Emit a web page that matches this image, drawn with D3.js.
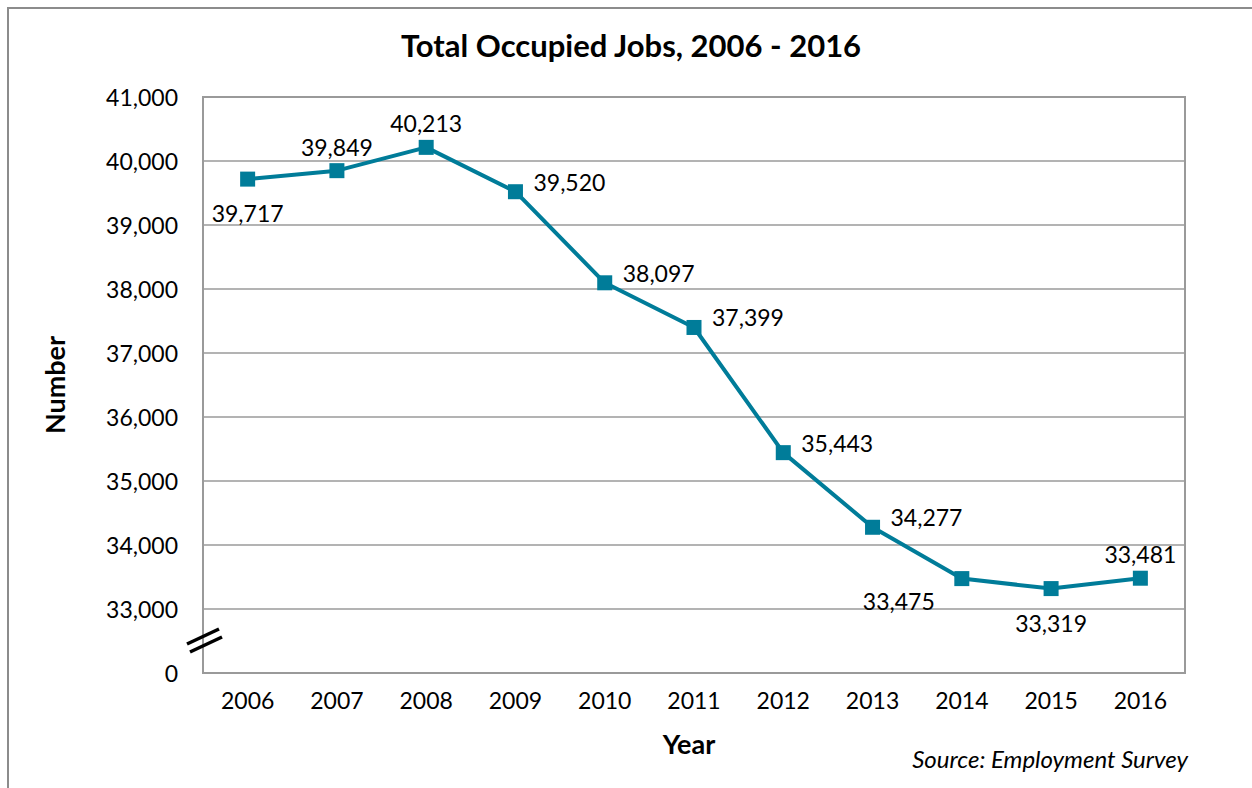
<!DOCTYPE html>
<html>
<head>
<meta charset="utf-8">
<script src="https://cdn.jsdelivr.net/npm/d3@7"></script>
<style>
  body { margin: 0; background: #fff; }
  svg { display: block; font-family: Lato, "Open Sans", sans-serif; }
</style>
</head>
<body>
<svg id="chart" width="1252" height="788"></svg>
<script>
// values
const years = ["2006", "2007", "2008", "2009", "2010", "2011", "2012", "2013", "2014", "2015", "2016"];
const jobs = [39717, 39849, 40213, 39520, 38097, 37399, 35443, 34277, 33475, 33319, 33481];
const yTicks = [0, 33000, 34000, 35000, 36000, 37000, 38000, 39000, 40000, 41000];
// where each label sits relative to its point
const labelPos = ["below", "above", "above", "right", "right", "right", "right", "right", "belowleft", "below", "above"];

const svg = d3.select("#chart");
const teal = "#007c99";
const grid = "#9a9a9a";

const plot = { left: 203, right: 1185, top: 97, bottom: 673 };

// outer frame
svg.append("rect")
   .attr("x", 8).attr("y", 8)
   .attr("width", 1260).attr("height", 800)
   .attr("fill", "none").attr("stroke", "#8c8c8c").attr("stroke-width", 2);

svg.append("text")
   .attr("x", 631).attr("y", 57)
   .attr("text-anchor", "middle")
   .style("font-size", "31px").style("font-weight", "bold")
   .text("Total Occupied Jobs, 2006 - 2016");

const x = d3.scaleBand().domain(years).range([plot.left, plot.right]);
// broken axis: 0 takes one step below 33,000
const y = d3.scaleLinear().domain([0, 33000, 41000]).range([plot.bottom, 609, plot.top]);

// gridlines
svg.append("g")
   .selectAll("line")
   .data(yTicks.filter(d => d > 0 && d < 41000))
   .join("line")
   .attr("x1", plot.left).attr("x2", plot.right)
   .attr("y1", d => y(d)).attr("y2", d => y(d))
   .attr("stroke", grid).attr("stroke-width", 1.5);

svg.append("rect")
   .attr("x", plot.left).attr("y", plot.top)
   .attr("width", plot.right - plot.left).attr("height", plot.bottom - plot.top)
   .attr("fill", "none").attr("stroke", grid).attr("stroke-width", 2);

// axes
const yAxis = d3.axisLeft(y).tickValues(yTicks).tickSize(0).tickPadding(25)
                .tickFormat(d3.format(","));
svg.append("g")
   .attr("transform", `translate(${plot.left},0)`)
   .call(yAxis)
   .call(g => g.select(".domain").remove())
   .call(g => g.selectAll("text").attr("dy", "0.36em")
                .style("font-size", "23px").style("font-family", "Lato, sans-serif").attr("fill", "#000"));

const xAxis = d3.axisBottom(x).tickSize(0).tickPadding(20);
svg.append("g")
   .attr("transform", `translate(0,${plot.bottom})`)
   .call(xAxis)
   .call(g => g.select(".domain").remove())
   .call(g => g.selectAll("text")
                .style("font-size", "23px").style("font-family", "Lato, sans-serif").attr("fill", "#000"));

// break marks on the y axis
const brk = svg.append("g").attr("stroke", "#000").attr("stroke-width", 3.5);
brk.append("line").attr("x1", 187).attr("y1", 644).attr("x2", 219).attr("y2", 629);
brk.append("line").attr("x1", 190).attr("y1", 652).attr("x2", 222).attr("y2", 637);

// axis titles
svg.append("text")
   .attr("transform", `translate(65,${(plot.top + plot.bottom) / 2}) rotate(-90)`)
   .attr("text-anchor", "middle")
   .style("font-size", "27px").style("font-weight", "bold")
   .text("Number");

svg.append("text")
   .attr("x", 689).attr("y", 754)
   .attr("text-anchor", "middle")
   .style("font-size", "27px").style("font-weight", "bold")
   .text("Year");

svg.append("text")
   .attr("x", 1188).attr("y", 768)
   .attr("text-anchor", "end")
   .style("font-size", "24px").style("font-style", "italic")
   .text("Source: Employment Survey");

// line and markers
const cx = d => x(d) + x.bandwidth() / 2;
const line = d3.line().x((d, i) => cx(years[i])).y(d => y(d));

svg.append("path")
   .datum(jobs)
   .attr("d", line)
   .attr("fill", "none").attr("stroke", teal).attr("stroke-width", 4)
   .attr("stroke-linejoin", "round");

svg.append("g")
   .selectAll("rect")
   .data(jobs)
   .join("rect")
   .attr("x", (d, i) => cx(years[i]) - 7.5)
   .attr("y", d => y(d) - 7.5)
   .attr("width", 15).attr("height", 15)
   .attr("fill", teal);

// data labels
const fmt = d3.format(",");
svg.append("g")
   .selectAll("text")
   .data(jobs)
   .join("text")
   .attr("x", (d, i) => {
     const p = labelPos[i];
     if (p === "right") return cx(years[i]) + 18;
     if (p === "belowleft") return cx(years[i]) - 63;
     return cx(years[i]);
   })
   .attr("y", (d, i) => {
     const p = labelPos[i];
     if (p === "above") return y(d) - 15;
     if (p === "below") return y(d) + 43;
     if (p === "belowleft") return y(d) + 31;
     return y(d) - 1;
   })
   .attr("text-anchor", (d, i) => labelPos[i] === "right" ? "start" : "middle")
   .style("font-size", "23px")
   .text(d => fmt(d));
</script>
</body>
</html>
